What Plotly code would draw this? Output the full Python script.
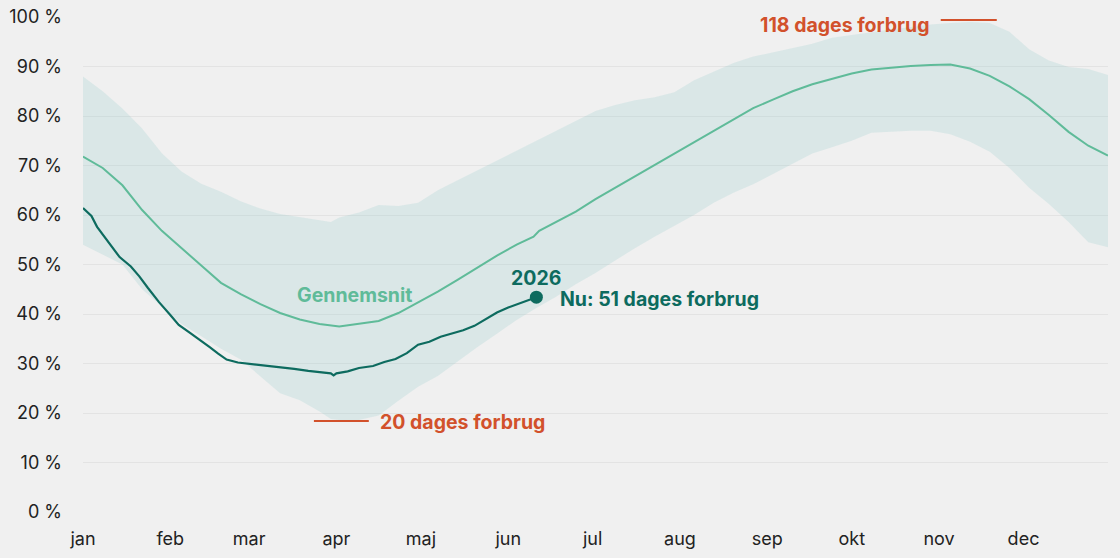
import plotly.graph_objects as go

# ---------------- data ----------------
month_labels = ["jan", "feb", "mar", "apr", "maj", "jun", "jul", "aug", "sep", "okt", "nov", "dec"]
month_start_days = [0, 31, 59, 90, 120, 151, 181, 212, 243, 273, 304, 334]

y_ticks = [0, 10, 20, 30, 40, 50, 60, 70, 80, 90, 100]
y_tick_labels = [f"{v} %" for v in y_ticks]

band_days = [0, 7, 14, 21, 28, 35, 42, 49, 56, 63, 70, 77, 84, 88, 91, 98, 105, 112, 119,
             126, 133, 140, 147, 154, 161, 168, 175, 182, 189, 196, 203, 210, 217, 224,
             231, 238, 245, 252, 259, 266, 273, 280, 287, 294, 301, 308, 315, 322, 329,
             336, 343, 350, 357, 364]
band_upper = [88, 85, 81.5, 77.5, 72.5, 68.8, 66.3, 64.7, 62.8, 61.3, 60.2, 59.6, 59, 58.6,
              59.5, 60.5, 62, 61.8, 62.5, 65, 67, 69, 71, 73, 75, 77, 79, 81, 82.2, 83.2,
              83.8, 84.8, 87.2, 89, 90.7, 92, 92.9, 93.7, 94.6, 95.8, 96.4, 97, 97.5, 98,
              98.5, 98.8, 99, 98.8, 97, 93.5, 91.2, 89.9, 89.5, 88.3]
band_lower = [54, 52, 50, 45, 41.5, 38, 35.5, 33, 30.8, 27.5, 24, 22.6, 20.3, 18.8, 18.6,
              18.6, 19.5, 22.5, 25.3, 27.5, 30.4, 33.3, 36, 38.8, 41.2, 43.5, 46, 48.3,
              50.8, 53.3, 55.6, 57.8, 60, 62.5, 64.5, 66.2, 68.3, 70.3, 72.4, 73.7, 75,
              76.6, 76.8, 77, 77, 76.3, 74.8, 72.8, 69.5, 65.5, 62.2, 58.6, 54.5, 53.5]

avg_days = [0, 7, 14, 21, 28, 35, 42, 49, 56, 63, 70, 77, 84, 91, 98, 105, 112, 119, 126,
            133, 140, 147, 154, 160, 162, 168, 175, 182, 189, 196, 203, 210, 217, 224, 231,
            238, 245, 252, 259, 266, 273, 280, 287, 294, 301, 308, 315, 322, 329, 336, 343,
            350, 357, 364]
avg_values = [71.8, 69.5, 66, 61, 56.8, 53.2, 49.8, 46.3, 44, 42, 40.2, 38.9, 38, 37.5, 38,
              38.6, 40.2, 42.3, 44.5, 46.9, 49.4, 51.8, 54, 55.6, 56.8, 58.6, 60.7, 63.2,
              65.5, 67.8, 70.1, 72.4, 74.6, 77, 79.3, 81.6, 83.3, 85, 86.4, 87.5, 88.6,
              89.4, 89.8, 90.1, 90.3, 90.4, 89.6, 88.1, 86, 83.4, 80.2, 76.8, 74, 72]

cur_days = [0, 3, 5, 9, 13, 17, 20, 23, 27, 31, 34, 38, 41, 45, 48, 51, 55, 60, 65, 70, 75,
            80, 85, 88, 89, 90, 94, 98, 103, 107, 111, 115, 119, 123, 127, 131, 135, 139,
            143, 147, 151, 155, 158, 161]
cur_values = [61.4, 59.8, 57.6, 54.5, 51.5, 49.6, 47.6, 45.3, 42.4, 39.8, 37.8, 36.2, 35,
              33.3, 32, 30.8, 30.2, 29.9, 29.5, 29.3, 28.9, 28.5, 28.2, 28.0, 27.6, 28,
              28.4, 29.1, 29.5, 30.3, 30.9, 32.1, 33.8, 34.4, 35.4, 36, 36.7, 37.6, 39,
              40.3, 41.3, 42.2, 42.8, 43.4]

min_marker_days = [82, 101.5]
min_marker_level = 18.4
max_marker_days = [304.6, 324.5]
max_marker_level = 99.4

# ---------------- style ----------------
BG = "#f0f0f0"
BAND = "rgba(120,195,195,0.18)"
AVG = "#5fbb99"
CUR = "#0d6b5f"
RED = "#d2512b"
FONT = "Inter"
ANN_SIZE = 19.5

fig = go.Figure()

fig.add_trace(go.Scatter(x=band_days, y=band_upper, mode="lines",
                         line=dict(width=0), hoverinfo="skip", showlegend=False))
fig.add_trace(go.Scatter(x=band_days, y=band_lower, mode="lines", fill="tonexty",
                         fillcolor=BAND, line=dict(width=0), hoverinfo="skip",
                         showlegend=False))
fig.add_trace(go.Scatter(x=avg_days, y=avg_values, mode="lines",
                         line=dict(color=AVG, width=2), showlegend=False))
fig.add_trace(go.Scatter(x=cur_days, y=cur_values, mode="lines",
                         line=dict(color=CUR, width=2.2), showlegend=False))
fig.add_trace(go.Scatter(x=[cur_days[-1]], y=[cur_values[-1]], mode="markers",
                         marker=dict(color=CUR, size=13), showlegend=False))

# red level markers
fig.add_trace(go.Scatter(x=min_marker_days, y=[min_marker_level] * 2, mode="lines",
                         line=dict(color=RED, width=2), showlegend=False))
fig.add_trace(go.Scatter(x=max_marker_days, y=[max_marker_level] * 2, mode="lines",
                         line=dict(color=RED, width=2), showlegend=False, cliponaxis=False))

annotations = [
    dict(x=96.5, y=43.8, text="Gennemsnit", xanchor="center", yanchor="middle",
         font=dict(color=AVG, size=ANN_SIZE, family=FONT, weight="bold")),
    dict(x=161, y=47.3, text="2026", xanchor="center", yanchor="middle",
         font=dict(color=CUR, size=ANN_SIZE, family=FONT, weight="bold")),
    dict(x=168.6, y=43.0, text="Nu: 51 dages forbrug", xanchor="left", yanchor="middle",
         font=dict(color=CUR, size=ANN_SIZE, family=FONT, weight="bold")),
    dict(x=104.7, y=18.2, text="20 dages forbrug", xanchor="left", yanchor="middle",
         font=dict(color=RED, size=ANN_SIZE, family=FONT, weight="bold")),
    dict(x=301, y=98.4, text="118 dages forbrug", xanchor="right", yanchor="middle",
         font=dict(color=RED, size=ANN_SIZE, family=FONT, weight="bold")),
]
for a in annotations:
    a.update(xref="x", yref="y", showarrow=False)

fig.update_layout(
    width=1120, height=558,
    margin=dict(l=83, r=12, t=17, b=46),
    paper_bgcolor=BG, plot_bgcolor=BG,
    font=dict(family=FONT, size=18, color="#222222"),
    annotations=annotations,
    showlegend=False,
)
fig.update_xaxes(range=[0, 364], tickmode="array", tickvals=month_start_days,
                 ticktext=month_labels, automargin=False,
                 showgrid=False, zeroline=False, showline=False, ticks="",
                 ticklabelstandoff=14, fixedrange=True)
fig.update_yaxes(range=[0, 100], tickmode="array", tickvals=y_ticks,
                 ticktext=y_tick_labels, automargin=False,
                 showgrid=True, gridcolor="#e3e3e3", gridwidth=1, zeroline=False,
                 showline=False, ticks="", ticklabelstandoff=20, fixedrange=True)

fig.write_html("out.html", config={"displayModeBar": False})
